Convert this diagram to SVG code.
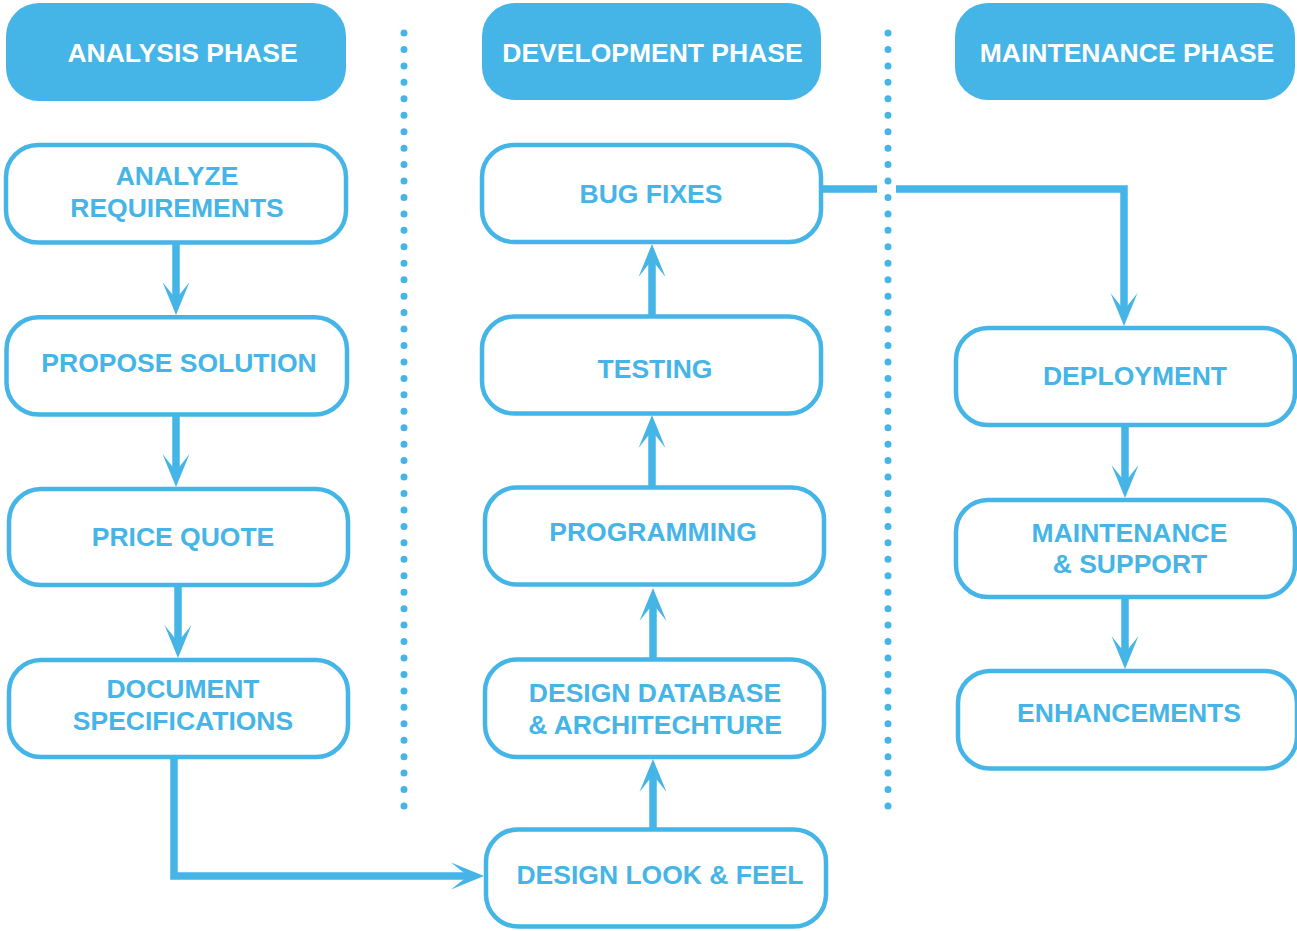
<svg xmlns="http://www.w3.org/2000/svg" width="1297" height="931" viewBox="0 0 1297 931">
<style>
.hdr{fill:#45B5E8}
.box{fill:#fff;stroke:#45B5E8;stroke-width:4.5}
.ht{fill:#fff;font-family:"Liberation Sans",Arial,sans-serif;font-weight:bold;font-size:26.5px;text-anchor:middle}
.nt{fill:#45B5E8;font-family:"Liberation Sans",Arial,sans-serif;font-weight:bold;font-size:26.5px;text-anchor:middle}
.con{fill:none;stroke:#45B5E8;stroke-width:7.5;stroke-linejoin:miter;marker-end:url(#ah)}
.dots{stroke:#45B5E8;stroke-width:7;stroke-linecap:round;stroke-dasharray:0 16.447}
</style>
<defs>
<marker id="ah" markerUnits="userSpaceOnUse" orient="auto" refX="0" refY="0" markerWidth="40" markerHeight="30" viewBox="-20 -15 40 30" overflow="visible">
<path d="M16,0 L-17,-13.5 L0,0 L-17,13.5 Z" fill="#45B5E8"/>
</marker>
</defs>

<g id="separators">
<line class="dots" x1="404" y1="33" x2="404" y2="809"/>
<line class="dots" x1="888" y1="33" x2="888" y2="809"/>
</g>

<g id="connectors">
<path class="con" d="M176,243 V299"/>
<path class="con" d="M176,415 V471"/>
<path class="con" d="M178,586 V642"/>
<path class="con" d="M174,758 V876 H468"/>
<path class="con" d="M653,830 V775"/>
<path class="con" d="M653,660 V604"/>
<path class="con" d="M652,489 V431"/>
<path class="con" d="M652,317 V260"/>
<path class="con" d="M823,189 H877 M896,189 H1124 V310"/>
<path class="con" d="M1125,426 V482"/>
<path class="con" d="M1125,598 V653"/>
</g>

<g id="analysis-phase">
<rect class="hdr" x="6" y="3" width="340" height="98" rx="33"/>
<text class="ht" x="182.5" y="62">ANALYSIS PHASE</text>
</g>
<g id="development-phase">
<rect class="hdr" x="482" y="3" width="339" height="97" rx="33"/>
<text class="ht" x="652.5" y="62">DEVELOPMENT PHASE</text>
</g>
<g id="maintenance-phase">
<rect class="hdr" x="955" y="3" width="340" height="97" rx="33"/>
<text class="ht" x="1127" y="62">MAINTENANCE PHASE</text>
</g>

<g id="analyze-requirements">
<rect class="box" x="6" y="145" width="340" height="97.5" rx="32"/>
<text class="nt" x="177" y="185">ANALYZE</text>
<text class="nt" x="177" y="217">REQUIREMENTS</text>
</g>
<g id="propose-solution">
<rect class="box" x="6.5" y="317.2" width="340.5" height="97.3" rx="32"/>
<text class="nt" x="179" y="372">PROPOSE SOLUTION</text>
</g>
<g id="price-quote">
<rect class="box" x="9" y="489" width="339" height="96" rx="32"/>
<text class="nt" x="183" y="546">PRICE QUOTE</text>
</g>
<g id="document-specifications">
<rect class="box" x="9" y="660" width="339" height="97" rx="32"/>
<text class="nt" x="183" y="698">DOCUMENT</text>
<text class="nt" x="183" y="730">SPECIFICATIONS</text>
</g>

<g id="bug-fixes">
<rect class="box" x="482" y="145" width="339" height="97" rx="32"/>
<text class="nt" x="651" y="203">BUG FIXES</text>
</g>
<g id="testing">
<rect class="box" x="482" y="316.5" width="339" height="97" rx="32"/>
<text class="nt" x="655" y="378">TESTING</text>
</g>
<g id="programming">
<rect class="box" x="485" y="487.5" width="339" height="97" rx="32"/>
<text class="nt" x="653" y="541">PROGRAMMING</text>
</g>
<g id="design-database">
<rect class="box" x="485" y="659.5" width="339" height="97.5" rx="32"/>
<text class="nt" x="655" y="702">DESIGN DATABASE</text>
<text class="nt" x="655" y="734">&amp; ARCHITECHTURE</text>
</g>
<g id="design-look-feel">
<rect class="box" x="486" y="829.5" width="340" height="97" rx="32"/>
<text class="nt" x="660" y="884">DESIGN LOOK &amp; FEEL</text>
</g>

<g id="deployment">
<rect class="box" x="956" y="328" width="339" height="97" rx="32"/>
<text class="nt" x="1135" y="385">DEPLOYMENT</text>
</g>
<g id="maintenance-support">
<rect class="box" x="956" y="500" width="339" height="97" rx="32"/>
<text class="nt" x="1129.5" y="542">MAINTENANCE</text>
<text class="nt" x="1130" y="573">&amp; SUPPORT</text>
</g>
<g id="enhancements">
<rect class="box" x="958" y="671" width="339" height="97.5" rx="32"/>
<text class="nt" x="1129" y="722">ENHANCEMENTS</text>
</g>
</svg>
